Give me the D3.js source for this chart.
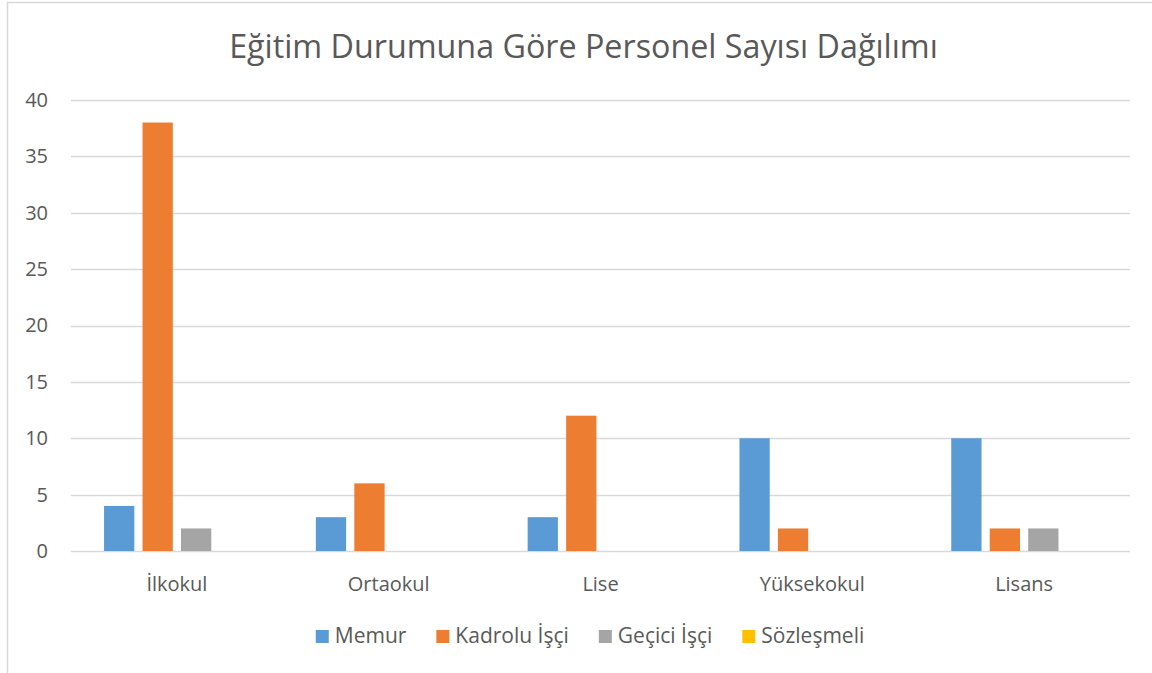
<!DOCTYPE html>
<html>
<head>
<meta charset="utf-8">
<script src="https://cdn.jsdelivr.net/npm/d3@7"></script>
<style>
  html, body { margin: 0; padding: 0; background: #fff; }
  svg { display: block; }
  text { font-family: "Open Sans", sans-serif; fill: #595959; }
</style>
</head>
<body>
<svg id="chart" width="1152" height="673"></svg>
<script>
const title = "Eğitim Durumuna Göre Personel Sayısı Dağılımı";
const categories = ["İlkokul", "Ortaokul", "Lise", "Yüksekokul", "Lisans"];
const seriesNames = ["Memur", "Kadrolu İşçi", "Geçici İşçi", "Sözleşmeli"];
const memur = [4, 3, 3, 10, 10];
const kadroluIsci = [38, 6, 12, 2, 2];
const geciciIsci = [2, 0, 0, 0, 2];
const sozlesmeli = [0, 0, 0, 0, 0];
const yTicks = [0, 5, 10, 15, 20, 25, 30, 35, 40];
const colors = ["#5B9BD5", "#ED7D31", "#A5A5A5", "#FFC000"];

const seriesValues = [memur, kadroluIsci, geciciIsci, sozlesmeli];

const svg = d3.select("#chart");

// outer chart border
svg.append("rect")
  .attr("x", 7.5).attr("y", 2.5)
  .attr("width", 1160).attr("height", 700)
  .attr("fill", "none").attr("stroke", "#d9d9d9").attr("stroke-width", 1.5);

const plot = { left: 71, right: 1130, top: 100, bottom: 551 };

const x = d3.scaleBand().domain(categories).range([plot.left, plot.right]).padding(0);
const bw = x.bandwidth();
const xs = d3.scaleBand().domain(seriesNames)
  .range([bw * 0.156, bw * 0.844]).paddingInner(0.213).paddingOuter(0);
const y = d3.scaleLinear().domain([0, 40]).range([plot.bottom, plot.top]);

// title
const t = svg.append("text")
  .attr("x", 583.5).attr("y", 58)
  .attr("text-anchor", "middle")
  .style("font-size", "28px")
  .text(title);
const tw = t.node().getComputedTextLength();
t.style("font-size", (28 * 709 / tw) + "px");

// gridlines
svg.append("g").selectAll("line").data(yTicks).join("line")
  .attr("x1", plot.left).attr("x2", plot.right)
  .attr("y1", d => Math.round(y(d)) + 0.5).attr("y2", d => Math.round(y(d)) + 0.5)
  .attr("stroke", "#d9d9d9").attr("stroke-width", 1.3);

// y axis labels via d3 axis
const yAxis = d3.axisLeft(y).tickValues(yTicks).tickSize(0).tickPadding(0);
const gy = svg.append("g").attr("transform", "translate(48,0)").call(yAxis);
gy.select(".domain").remove();
gy.selectAll("text").style("font-size", "20px").style("font-family", "'Open Sans', sans-serif").attr("fill", "#595959");

// bars
const rows = [];
categories.forEach((c, ci) => {
  seriesNames.forEach((s, si) => {
    rows.push({ cat: c, series: s, value: seriesValues[si][ci], color: colors[si] });
  });
});
svg.append("g").selectAll("rect").data(rows).join("rect")
  .attr("x", d => x(d.cat) + xs(d.series))
  .attr("width", xs.bandwidth())
  .attr("y", d => y(d.value))
  .attr("height", d => y(0) - y(d.value))
  .attr("fill", d => d.color);

// x axis labels
const xAxis = d3.axisBottom(x).tickSize(0).tickPadding(0);
const gx = svg.append("g").attr("transform", "translate(0,577)").call(xAxis);
gx.select(".domain").remove();
gx.selectAll("text").style("font-size", "20px").style("font-family", "'Open Sans', sans-serif").attr("fill", "#595959");

// legend
const legend = svg.append("g");
const items = legend.selectAll("g").data(seriesNames).join("g");
items.append("rect").attr("width", 13).attr("height", 13).attr("y", 630)
  .attr("fill", (d, i) => colors[i]);
items.append("text").attr("x", 19).attr("y", 643)
  .style("font-size", "21px").text(d => d);
let widths = [];
items.each(function() { widths.push(d3.select(this).select("text").node().getComputedTextLength()); });
const gap = 30;
const total = d3.sum(widths.map(w => 19 + w)) + gap * (widths.length - 1);
let cx = 590 - total / 2;
items.each(function(d, i) {
  d3.select(this).attr("transform", `translate(${cx},0)`);
  cx += 19 + widths[i] + gap;
});
</script>
</body>
</html>
